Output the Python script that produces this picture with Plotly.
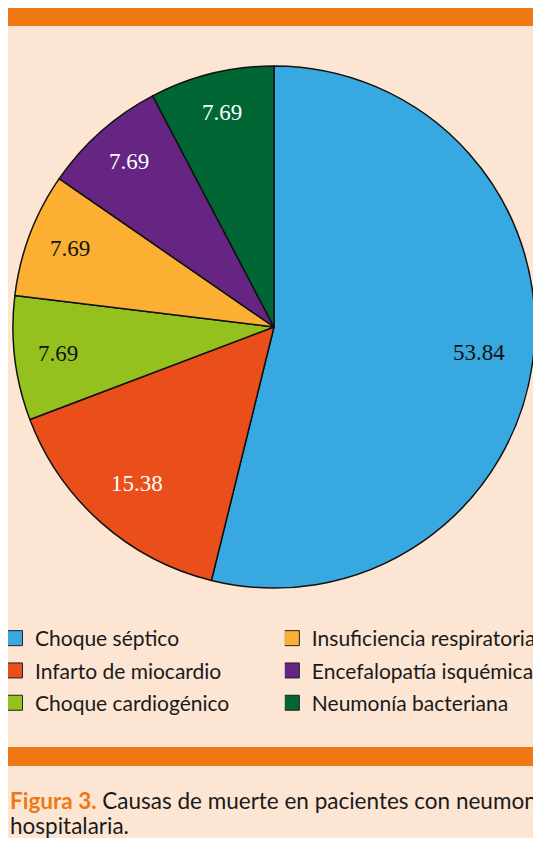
import math
import plotly.graph_objects as go

labels = ["Choque séptico", "Infarto de miocardio", "Choque cardiogénico",
          "Insuficiencia respiratoria", "Encefalopatía isquémica", "Neumonía bacteriana"]
values = [53.84, 15.38, 7.69, 7.69, 7.69, 7.69]
colors = ["#38a8e0", "#e94e1b", "#95c11f", "#fbb034", "#662483", "#006633"]
text_colors = ["#111111", "#ffffff", "#111111", "#111111", "#ffffff", "#ffffff"]
legend_col1 = [0, 1, 2]
legend_col2 = [3, 4, 5]

W, H = 533, 830
fig = go.Figure()

# pie geometry (pixels in figure space)
x0 = 5
r = (W - x0) / 2
cx = x0 + r
cy = 319
fig.add_trace(go.Pie(
    labels=labels, values=values, sort=False, direction="clockwise", rotation=0,
    marker=dict(colors=colors, line=dict(color="#111111", width=1.5)),
    textinfo="none",
    showlegend=False, hoverinfo="label+value",
    domain=dict(x=[x0 / W, 1], y=[1 - (cy + r) / H, 1 - (cy - r) / H]),
))

# value labels placed at slice mid-angles, derived from the data
total = sum(values)
annotations = []
cum = 0.0
for v, tc in zip(values, text_colors):
    mid = (cum + v / 2) / total * 2 * math.pi
    cum += v
    rf = 0.79 if v / total > 0.1 else 0.835
    px = cx + rf * r * math.sin(mid)
    py = cy - rf * r * math.cos(mid)
    annotations.append(dict(
        xref="paper", yref="paper", x=px / W, y=1 - py / H, showarrow=False,
        xanchor="center", yanchor="middle", text=f"{v:.2f}",
        font=dict(family="Liberation Serif", size=23, color=tc),
    ))

for col, idxs in (("legend", legend_col1), ("legend2", legend_col2)):
    for i in idxs:
        fig.add_trace(go.Scatter(
            x=[None], y=[None], mode="markers", name=labels[i],
            marker=dict(symbol="square", size=15, color=colors[i],
                        line=dict(color="#222222", width=1)),
            legend=col, legendgroup=labels[i],
        ))

legend_common = dict(font=dict(family="Lato", size=21, color="#1a1a1a"),
                     bgcolor="rgba(0,0,0,0)", tracegroupgap=2, itemsizing="trace",
                     indentation=-13,
                     yanchor="top", y=1 - 610 / H, xanchor="left")
fig.update_layout(
    legend=dict(x=0, **legend_common),
    legend2=dict(x=280 / W, **legend_common),
)

cap_font = dict(family="Lato", size=22.5, color="#1a1a1a")
annotations += [
    dict(xref="paper", yref="paper", x=0, y=1 - 792 / H, xanchor="left", yanchor="middle",
         align="left", showarrow=False, font=cap_font,
         text="<b><span style='color:#f07814'>Figura 3.</span></b> Causas de muerte en pacientes con neumonía"),
    dict(xref="paper", yref="paper", x=0, y=1 - 817 / H, xanchor="left", yanchor="middle",
         align="left", showarrow=False, font=cap_font, text="hospitalaria."),
]

fig.update_layout(
    width=W, height=H, margin=dict(l=0, r=0, t=0, b=0),
    paper_bgcolor="#fde5d3", plot_bgcolor="rgba(0,0,0,0)",
    xaxis=dict(visible=False), yaxis=dict(visible=False),
    shapes=[
        dict(type="rect", xref="paper", yref="paper", x0=0, x1=1, y0=1 - 18 / H, y1=1,
             fillcolor="#f07814", line=dict(width=0), layer="below"),
        dict(type="rect", xref="paper", yref="paper", x0=0, x1=1, y0=1 - 758 / H, y1=1 - 739 / H,
             fillcolor="#f07814", line=dict(width=0), layer="below"),
    ],
    annotations=annotations,
)

fig.write_html("out.html")
